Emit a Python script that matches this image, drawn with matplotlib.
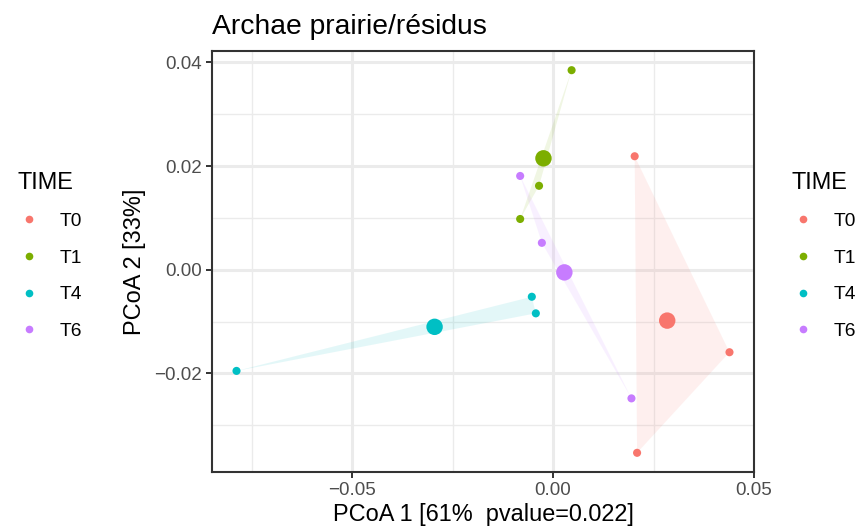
import matplotlib
matplotlib.use("Agg")
import matplotlib.pyplot as plt
from matplotlib.lines import Line2D
from matplotlib.patches import Polygon
from matplotlib.ticker import FixedLocator, FuncFormatter

plt.rcParams['font.family'] = ['Liberation Sans', 'DejaVu Sans']

# PCoA sample coordinates per sampling time
groups = ["T0", "T1", "T4", "T6"]
colors = ["#F8766D", "#7CAE00", "#00BFC4", "#C77CFF"]

pc1_T0 = [0.0203, 0.0439, 0.0209]
pc2_T0 = [0.0219, -0.0159, -0.0353]
pc1_T1 = [0.0046, -0.0035, -0.0082]
pc2_T1 = [0.0385, 0.0162, 0.0098]
pc1_T4 = [-0.0053, -0.0043, -0.0788]
pc2_T4 = [-0.0052, -0.0084, -0.0195]
pc1_T6 = [-0.0082, -0.0028, 0.0195]
pc2_T6 = [0.0181, 0.0052, -0.0248]

# group centroids
cent_pc1 = [0.0284, -0.0024, -0.0295, 0.0028]
cent_pc2 = [-0.0098, 0.0215, -0.0110, -0.0005]

pc1 = [pc1_T0, pc1_T1, pc1_T4, pc1_T6]
pc2 = [pc2_T0, pc2_T1, pc2_T4, pc2_T6]

x_ticks = [-0.05, 0.0, 0.05]
y_ticks = [-0.02, 0.0, 0.02, 0.04]

title = "Archae prairie/résidus"
x_label = "PCoA 1 [61%  pvalue=0.022]"
y_label = "PCoA 2 [33%]"
legend_title = "TIME"


def convex_hull(pts):
    pts = sorted(set(pts))
    if len(pts) <= 2:
        return pts

    def cross(o, a, b):
        return (a[0] - o[0]) * (b[1] - o[1]) - (a[1] - o[1]) * (b[0] - o[0])

    lower, upper = [], []
    for p in pts:
        while len(lower) >= 2 and cross(lower[-2], lower[-1], p) <= 0:
            lower.pop()
        lower.append(p)
    for p in reversed(pts):
        while len(upper) >= 2 and cross(upper[-2], upper[-1], p) <= 0:
            upper.pop()
        upper.append(p)
    return lower[:-1] + upper[:-1]


fig = plt.figure(figsize=(8.66, 5.31), dpi=100)
ax = fig.add_axes([212 / 866, 1 - 472 / 531, 542 / 866, 421 / 531])

ax.set_xlim(-0.0849, 0.0500)
ax.set_ylim(-0.0390, 0.0422)

# grid (major + minor), theme_bw style
ax.xaxis.set_major_locator(FixedLocator(x_ticks))
ax.yaxis.set_major_locator(FixedLocator(y_ticks))
ax.xaxis.set_minor_locator(FixedLocator([-0.075, -0.025, 0.025]))
ax.yaxis.set_minor_locator(FixedLocator([-0.03, -0.01, 0.01, 0.03]))
ax.grid(which='major', color='#EBEBEB', linewidth=2.2, zorder=0)
ax.grid(which='minor', color='#EBEBEB', linewidth=1.0, zorder=0)
ax.set_axisbelow(True)

fmt = FuncFormatter(lambda v, p: ("\u2212" if v < -1e-12 else "") + f"{abs(v):.2f}")
ax.xaxis.set_major_formatter(fmt)
ax.yaxis.set_major_formatter(fmt)
ax.tick_params(which='major', length=4, width=1.4, color='#333333',
               labelsize=13.5, labelcolor='#4D4D4D', pad=3)
ax.tick_params(which='minor', length=0)

for s in ax.spines.values():
    s.set_color('#333333')
    s.set_linewidth(1.5)

# convex hulls
for xs, ys, c in zip(pc1, pc2, colors):
    hull = convex_hull(list(zip(xs, ys)))
    ax.add_patch(Polygon(hull, closed=True, facecolor=c, alpha=0.11,
                         edgecolor='none', zorder=1))

# samples and centroids
for xs, ys, c in zip(pc1, pc2, colors):
    ax.scatter(xs, ys, s=34, color=c, edgecolors='none', zorder=3)
for x, y, c in zip(cent_pc1, cent_pc2, colors):
    ax.scatter([x], [y], s=140, color=c, edgecolors='none', zorder=4)

ax.set_title(title, loc='left', fontsize=20.3, pad=12)
ax.set_xlabel(x_label, fontsize=16.9, labelpad=3)
ax.set_ylabel(y_label, fontsize=16.9, labelpad=6)

handles = [Line2D([], [], marker='o', linestyle='none', markersize=5.5,
                  markerfacecolor=c, markeredgecolor='none', label=g)
           for g, c in zip(groups, colors)]

for xpos in (8 / 866, 782 / 866):
    leg = fig.legend(handles=handles, title=legend_title, loc='upper left',
                     bbox_to_anchor=(xpos, 1 - 161 / 531), frameon=False,
                     fontsize=13.8, title_fontsize=16.9, labelspacing=1.0,
                     handletextpad=1.0, handlelength=1.2, borderpad=0)
    leg._legend_box.align = "left"

fig.savefig("out.png", dpi=100)
